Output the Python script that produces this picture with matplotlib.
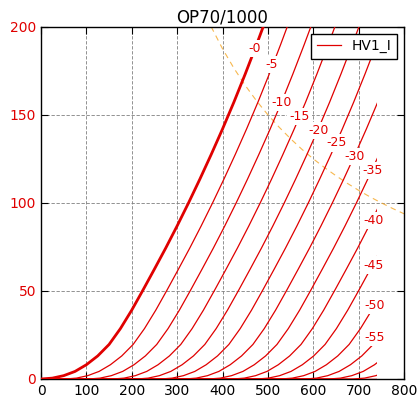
import numpy as np
import matplotlib
matplotlib.use("Agg")
import matplotlib.pyplot as plt
from matplotlib.patches import Rectangle

# Anode current levels (mA) at which the plate voltage of each curve was read
ia_levels = [0, 0.5, 1.9, 4.3, 8.1, 13.1, 19.6, 28.6, 39.1, 50.6, 62.4,
             74.4, 86.9, 99.9, 113.4, 127.4, 141.9, 157.1, 173.1, 189.8, 207.1]

# Plate voltage (V) where each grid-voltage curve reaches the levels above
va_g0 = [0, 25, 50, 75, 100, 125, 150, 175, 200, 225, 250, 275, 300, 325, 350,
         375, 400, 425, 450, 475, 500]
va_g5 = [53, 78, 103, 128, 153, 178, 203, 228, 253, 278, 303, 328, 353, 378,
         403, 428, 453, 478, 503, 528, 553]
va_g10 = [105, 130, 155, 180, 205, 230, 255, 280, 305, 330, 355, 380, 405, 430,
          455, 480, 505, 530, 555, 580, 605]
va_g15 = [158, 183, 208, 233, 258, 283, 308, 333, 358, 383, 408, 433, 458, 483,
          508, 533, 558, 583, 608, 633, 658]
va_g20 = [211, 236, 261, 286, 311, 336, 361, 386, 411, 436, 461, 486, 511, 536,
          561, 586, 611, 636, 661, 686, 711]
va_g25 = [264, 289, 314, 339, 364, 389, 414, 439, 464, 489, 514, 539, 564, 589,
          614, 639, 664, 689, 714, 739, 764]
va_g30 = [317, 342, 367, 392, 417, 442, 467, 492, 517, 542, 567, 592, 617, 642,
          667, 692, 717, 742]
va_g35 = [370, 395, 420, 445, 470, 495, 520, 545, 570, 595, 620, 645, 670, 695,
          720, 745]
va_g40 = [423, 448, 473, 498, 523, 548, 573, 598, 623, 648, 673, 698, 723, 748]
va_g45 = [476, 501, 526, 551, 576, 601, 626, 651, 676, 701, 726, 751]
va_g50 = [529, 554, 579, 604, 629, 654, 679, 704, 729, 754]
va_g55 = [582, 607, 632, 657, 682, 707, 732, 757]
va_g60 = [635, 660, 685, 710, 735, 760]
va_g65 = [688, 713, 738, 763]
va_g70 = [741]
va_g75 = [794]

curves = [va_g0, va_g5, va_g10, va_g15, va_g20, va_g25, va_g30, va_g35,
          va_g40, va_g45, va_g50, va_g55, va_g60, va_g65, va_g70, va_g75]

# Curve labels (grid voltage) and where they sit on the curves
label_text = ["-0", "-5", "-10", "-15", "-20", "-25", "-30", "-35",
              "-40", "-45", "-50", "-55"]
label_va = [471, 509, 531, 570, 612, 652, 691, 731, 733, 733, 735, 735]
label_ia = [187.6, 178.5, 157, 149, 141, 134, 126.5, 118.5, 90, 64.7, 42, 23.4]

# Max plate dissipation line (75 W)
pd_va = [375, 400, 425, 450, 475, 500, 525, 550, 575, 600, 625, 650, 675,
         700, 725, 750, 775, 800]
pd_ia = [200, 187.5, 176.5, 166.7, 157.9, 150, 142.9, 136.4, 130.4, 125,
         120, 115.4, 111.1, 107.1, 103.4, 100, 96.8, 93.8]

va_max = 740

x_ticks = [0, 100, 200, 300, 400, 500, 600, 700, 800]
y_ticks = [0, 50, 100, 150, 200]

fig = plt.figure(figsize=(4.2, 3.98), dpi=100)
ax = fig.add_axes([41 / 420, 1 - 379 / 398, 363 / 420, (379 - 26.7) / 398])

clip_rect = Rectangle((0, 0), va_max, 200, transform=ax.transData)

for i, va in enumerate(curves):
    x = [0] + list(va)
    y = [0] + ia_levels[:len(va)]
    lw = 2.0 if i == 0 else 0.9
    lab = "HV1_I" if i == 1 else None
    ln, = ax.plot(x, y, color="#e00000", lw=lw, label=lab, zorder=3)
    ln.set_clip_path(Rectangle((0, 0), va_max, 200, transform=ax.transData))

ax.plot(pd_va, pd_ia, color="#f5a623", lw=0.8, ls=(0, (5, 4)), alpha=0.8,
        zorder=2)

for t, xv, yv in zip(label_text, label_va, label_ia):
    ax.text(xv, yv, t, color="#e00000", fontsize=9, ha="center", va="center",
            zorder=5,
            bbox=dict(facecolor="white", edgecolor="none", pad=1.5))

ax.set_xlim(0, 800)
ax.set_ylim(0, 200)
ax.set_xticks(x_ticks)
ax.set_yticks(y_ticks)
ax.tick_params(axis="both", direction="in", top=True, right=True,
               length=5, width=0.8, labelsize=10)
ax.tick_params(axis="y", labelcolor="#e00000")
ax.grid(True, color="gray", ls=(0, (4, 2)), lw=0.6)
for s in ax.spines.values():
    s.set_linewidth(1.0)
    s.set_color("black")

ax.set_title("OP70/1000", fontsize=12, pad=3)
leg = ax.legend(loc="upper right", fontsize=10, fancybox=False,
                framealpha=1, edgecolor="black", handlelength=1.7,
                borderaxespad=0.5)
leg.get_frame().set_linewidth(1.0)
leg.set_zorder(10)

fig.savefig("out.png", dpi=100)
